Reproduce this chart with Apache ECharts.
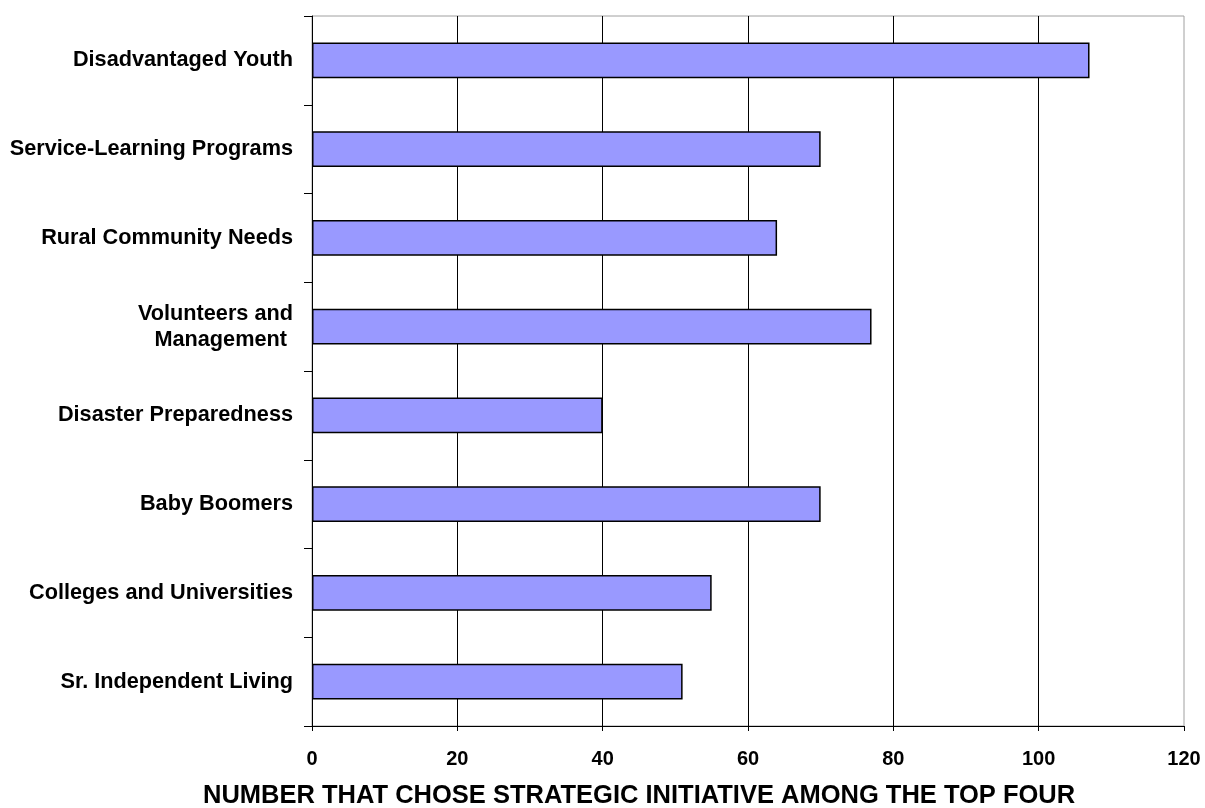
<!DOCTYPE html>
<html>
<head>
<meta charset="utf-8">
<script src="https://cdn.jsdelivr.net/npm/echarts@6/dist/echarts.min.js"></script>
<style>
html,body{margin:0;padding:0;background:#fff;}
#chart{width:1205px;height:808px;}
</style>
</head>
<body>
<div id="chart"></div>
<script>
const categories = [
  "Disadvantaged Youth",
  "Service-Learning Programs",
  "Rural Community Needs",
  "Volunteers and\nManagement ",
  "Disaster Preparedness",
  "Baby Boomers",
  "Colleges and Universities",
  "Sr. Independent Living"
];
const values = [107, 70, 64, 77, 40, 70, 55, 51];
const xTicks = { min: 0, max: 120, interval: 20 };
const axisTitle = "NUMBER THAT CHOSE STRATEGIC INITIATIVE AMONG THE TOP FOUR";

const chart = echarts.init(document.getElementById('chart'), null, {renderer: 'canvas'});
const font = "'Liberation Sans', Arial, sans-serif";
chart.setOption({
  animation: false,
  backgroundColor: '#fff',
  grid: {
    left: 312, right: 21, top: 16, bottom: 82,
    show: true, borderColor: '#a0a0a0', borderWidth: 1, backgroundColor: 'transparent'
  },
  title: {
    text: axisTitle,
    left: 203, top: 783,
    padding: 0,
    textStyle: { fontFamily: font, fontWeight: 'bold', fontSize: 25.5, color: '#000' }
  },
  xAxis: {
    type: 'value',
    min: xTicks.min, max: xTicks.max, interval: xTicks.interval,
    axisLine: { show: true, lineStyle: { color: '#000', width: 1 } },
    axisTick: { show: true, length: 5, lineStyle: { color: '#000' } },
    axisLabel: { margin: 23, fontFamily: font, fontWeight: 'bold', fontSize: 20, color: '#000' },
    splitLine: { show: true, showMinLine: false, showMaxLine: false, lineStyle: { color: '#000', width: 1 } }
  },
  yAxis: {
    type: 'category',
    inverse: true,
    data: categories,
    axisLine: { show: true, lineStyle: { color: '#000', width: 1 } },
    axisTick: { show: true, length: 8, alignWithLabel: false, lineStyle: { color: '#000' } },
    axisLabel: { margin: 19, fontFamily: font, fontWeight: 'bold', fontSize: 21.7, color: '#000', lineHeight: 26, align: 'right' },
    splitLine: { show: false }
  },
  series: [{
    type: 'bar',
    data: values,
    barWidth: '40.5%',
    itemStyle: { color: '#9999ff', borderColor: '#000', borderWidth: 1.5 },
    silent: true
  }]
});
</script>
</body>
</html>
